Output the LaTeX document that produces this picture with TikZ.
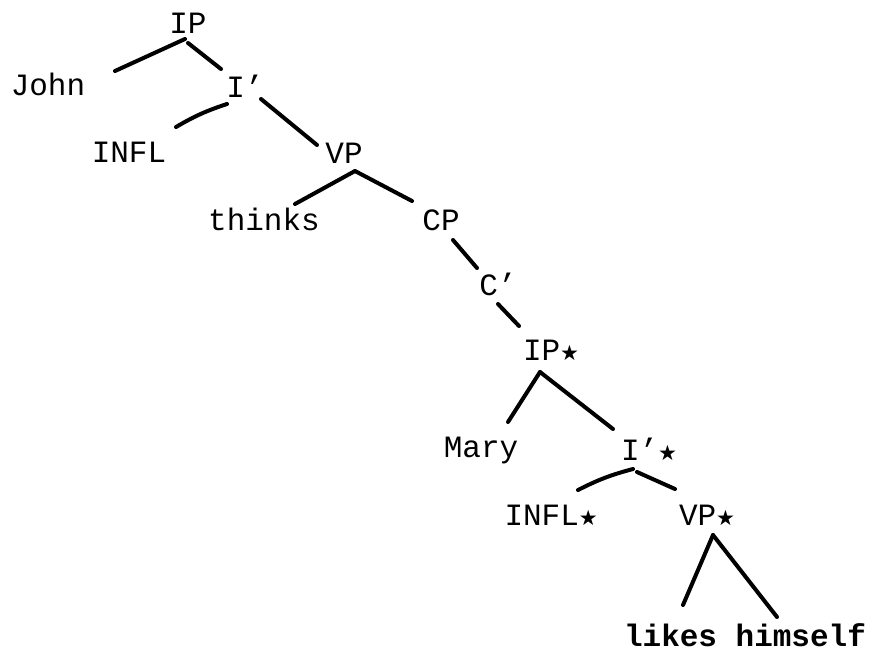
\documentclass[tikz,border=0pt]{standalone}
\usepackage{fontspec}
\setmainfont{Liberation Mono}
\newfontfamily\starfont{DejaVu Sans}
\newcommand{\mystar}{\makebox[0.6em]{\scalebox{0.68}{\starfont ★}}}

\begin{document}
\begin{tikzpicture}[x=1pt, y=-1pt,
    lbl/.style={anchor=base, inner sep=0pt, font=\fontsize{31}{31}\selectfont},
    branch/.style={line width=4pt, line cap=round}]
        \fill[white] (0,0) rectangle (874,656);
        % upper tree
        \node[lbl] (ip) at (188,33) {IP};
        \node[lbl] (john) at (48,95) {John};
        \node[lbl] (ibar) at (245,97) {I'};
        \node[lbl] (infl) at (129,162) {INFL};
        \node[lbl] (vp) at (344,163) {VP};
        \node[lbl] (thinks) at (264,230) {thinks};
        \node[lbl] (cp) at (441,230) {CP};
        \node[lbl] (cbar) at (498,295) {C'};
        % embedded clause
        \node[lbl] (ips) at (551,360) {IP\mystar};
        \node[lbl] (mary) at (481,457) {Mary};
        \node[lbl] (ibars) at (649,460) {I'\mystar};
        \node[lbl] (infls) at (551,525) {INFL\mystar};
        \node[lbl] (vps) at (707,525) {VP\mystar};
        \node[lbl, font=\fontsize{31}{31}\selectfont\bfseries] (lh) at (745,646) {likes himself};
        \draw[branch] ([shift={(-3,6)}]ip.base) -- ([shift={(67,-24)}]john.base);
        \draw[branch] ([shift={(0,10)}]ip.base) -- ([shift={(-24,-28)}]ibar.base);
        \draw[branch] ([shift={(-18,7)}]ibar.base) to[bend right=6] ([shift={(47,-35)}]infl.base);
        \draw[branch] ([shift={(16,2)}]ibar.base) -- ([shift={(-27,-18)}]vp.base);
        \draw[branch] ([shift={(11,8)}]vp.base) -- ([shift={(31,-26)}]thinks.base);
        \draw[branch] ([shift={(11,8)}]vp.base) -- ([shift={(-29,-29)}]cp.base);
        \draw[branch] ([shift={(12,10)}]cp.base) -- ([shift={(-21,-27)}]cbar.base);
        \draw[branch] ([shift={(0,9)}]cbar.base) -- ([shift={(-32,-34)}]ips.base);
        \draw[branch] ([shift={(-11,12)}]ips.base) -- ([shift={(27,-35)}]mary.base);
        \draw[branch] ([shift={(-11,12)}]ips.base) -- ([shift={(-36,-31)}]ibars.base);
        \draw[branch] ([shift={(-16,9)}]ibars.base) to[bend right=6] ([shift={(27,-35)}]infls.base);
        \draw[branch] ([shift={(-12,12)}]ibars.base) -- ([shift={(-32,-36)}]vps.base);
        \draw[branch] ([shift={(6,10)}]vps.base) -- ([shift={(-62,-41)}]lh.base);
        \draw[branch] ([shift={(6,10)}]vps.base) -- ([shift={(32,-29)}]lh.base);
\end{tikzpicture}
\end{document}
